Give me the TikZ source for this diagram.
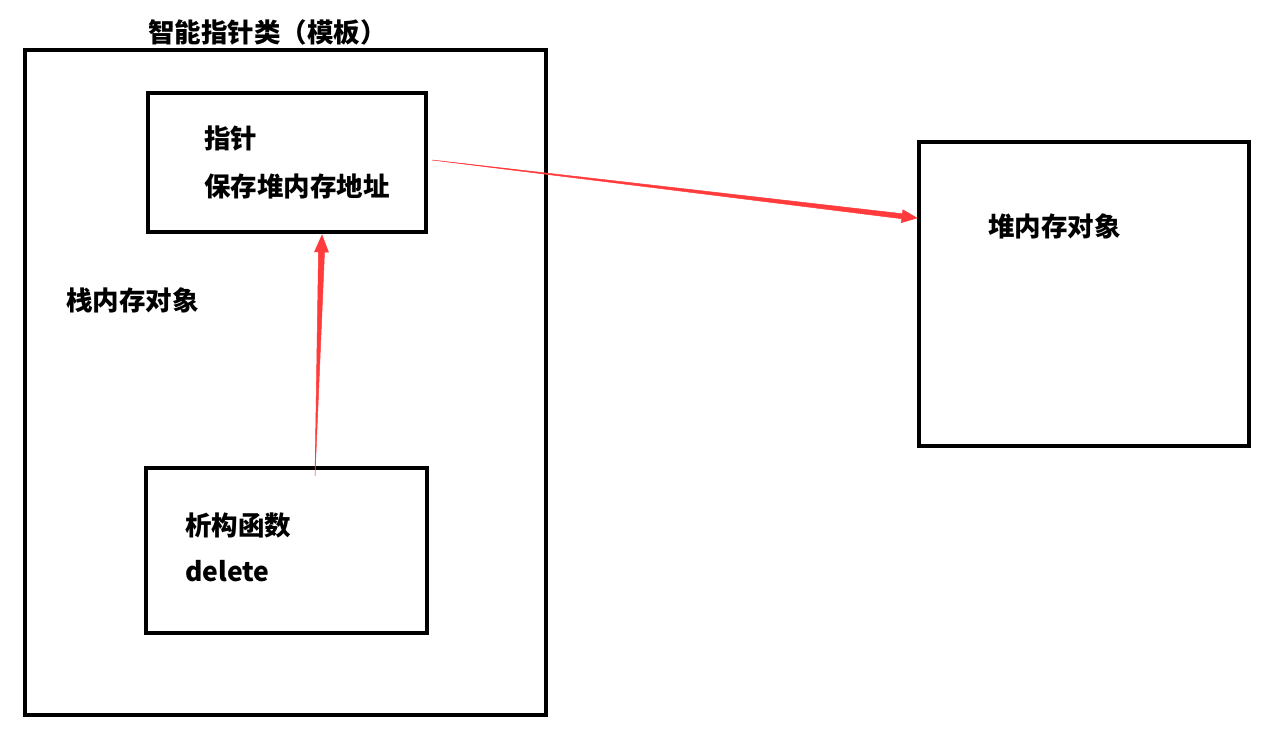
\documentclass[tikz,border=0pt]{standalone}
\usepackage{fontspec}
\setmainfont{Noto Sans CJK SC}
\usetikzlibrary{calc,positioning}
\definecolor{PtrRed}{HTML}{FF3B3B}
\tikzset{
  frame/.style={draw=black, line width=4pt, inner sep=0pt, fill=none},
  txt/.style={anchor=west, inner sep=0pt, font=\fontsize{26.5}{32}\selectfont\bfseries},
  taper/.style={fill=PtrRed, draw=PtrRed, line width=0.5pt, line join=miter},
}

\begin{document}
\begin{tikzpicture}[x=1pt,y=-1pt]
        \useasboundingbox (0,0) rectangle (1281,745);
        % boxes
        \node[frame, minimum width=521pt, minimum height=665pt] (outer) at (285,382.5) {};
        \node[frame, minimum width=278pt, minimum height=139pt] (ptr) at (287,162.5) {};
        \node[frame, minimum width=281pt, minimum height=165pt] (dtor) at (286.5,550.5) {};
        \node[frame, minimum width=330pt, minimum height=304pt] (heap) at (1084,294) {};
        % texts
        \node[txt] (title) at (148,32) {智能指针类（模板）};
        \node[txt] (ptrname) at (204,139) {指针};
        \node[txt] (ptraddr) at (204,186) {保存堆内存地址};
        \node[txt] (stack) at (66,300) {栈内存对象};
        \node[txt] (dtorname) at (185,525) {析构函数};
        \node[txt] (dtordel) at (185,571) {delete};
        \node[txt] (heapobj) at (988,226) {堆内存对象};
        % tapered arrows
        \coordinate (a1s) at ($(ptr.east)+(4,-2.5)$);
        \coordinate (a1t) at ($(heap.west)+(0,-76)$);
        \coordinate (a1h) at ($(a1t)!15pt!(a1s)$);
        \fill[taper] (a1s) -- ($(a1h)!2.5pt!90:(a1t)$) -- ($(a1h)!6.5pt!90:(a1t)$) -- (a1t)
          -- ($(a1h)!6.5pt!-90:(a1t)$) -- ($(a1h)!2.5pt!-90:(a1t)$) -- cycle;
        \coordinate (a2s) at ($(dtor.north)+(28.5,10)$);
        \coordinate (a2t) at ($(ptr.south)+(35,1)$);
        \coordinate (a2h) at ($(a2t)!17pt!(a2s)$);
        \fill[taper] (a2s) -- ($(a2h)!3pt!90:(a2t)$) -- ($(a2h)!7pt!90:(a2t)$) -- (a2t)
          -- ($(a2h)!7pt!-90:(a2t)$) -- ($(a2h)!3pt!-90:(a2t)$) -- cycle;
\end{tikzpicture}
\end{document}
